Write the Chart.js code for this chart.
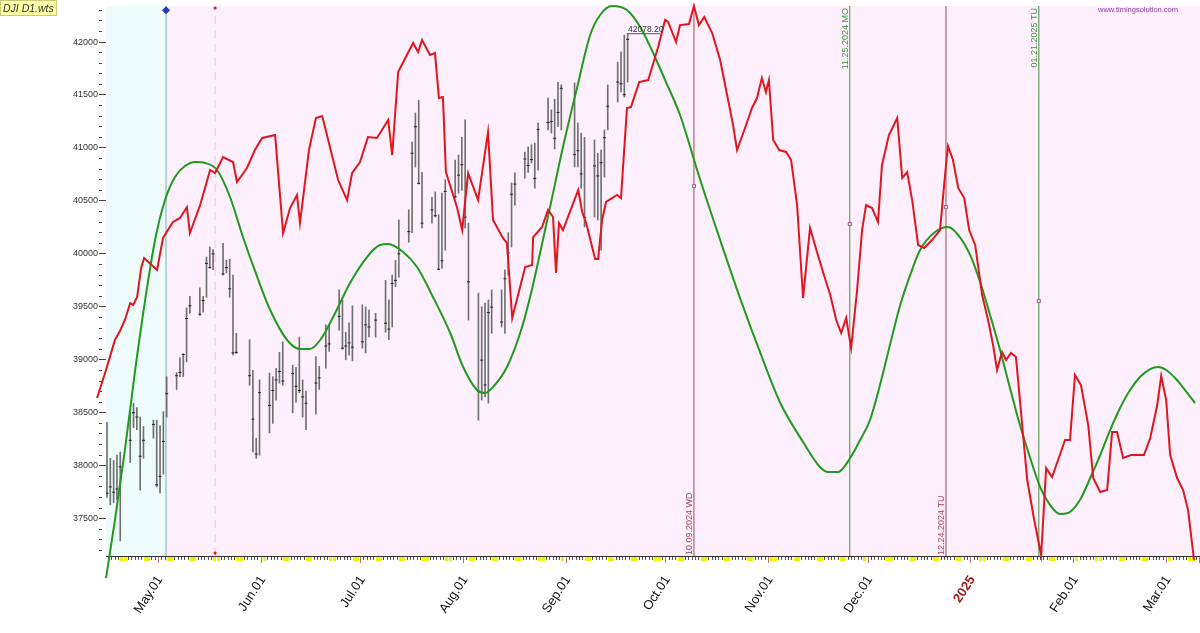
<!DOCTYPE html>
<html lang="en">
<head>
  <meta charset="UTF-8">
  <title>DJI D1.wts</title>
  <script src="https://cdn.jsdelivr.net/npm/chart.js"></script>
  <style>
    body { margin: 0; background: #fff; }
    canvas { display: block; }
  </style>
</head>
<body>
  <canvas id="myChart" width="1200" height="633"></canvas>

  <script>
    // day numbers count calendar days from May 1, 2024 (day 0)
    const monthStarts = [0, 31, 61, 92, 123, 153, 184, 214, 245, 276, 304];
    const monthLabels = ['May.01', 'Jun.01', 'Jul.01', 'Aug.01', 'Sep.01', 'Oct.01', 'Nov.01', 'Dec.01', '2025', 'Feb.01', 'Mar.01'];

    // daily price bars (trading days)
    const barDays = [-16, -15, -14, -13, -12, -9, -8, -7, -6, -5, -2, -1, 0, 1, 2,
      5, 6, 7, 8, 9, 12, 13, 14, 15, 16, 19, 20, 21, 22, 23, 27, 28, 29, 30,
      33, 34, 35, 36, 37, 40, 41, 42, 43, 44, 47, 48, 50, 51, 54, 55, 56, 57, 58,
      61, 62, 63, 65, 68, 69, 70, 71, 72, 75, 76, 77, 78, 79, 82, 83, 84, 85, 86, 89, 90, 91,
      92, 93, 96, 97, 98, 99, 100, 103, 104, 105, 106, 107, 110, 111, 112, 113, 114, 117, 118, 119, 120, 121,
      125, 126, 127, 128, 131, 132, 133, 134, 135, 138, 139, 140, 141];
    const barHigh = [38410, 38070, 38050, 38100, 38130, 38500, 38590, 38550, 38460, 38370, 38430, 38430, 38380, 38510, 38840,
      38880, 39020, 39060, 39490, 39600, 39680, 39600, 39970, 40065, 40040, 40100, 39940, 39950, 39800, 39250, 39190, 38900, 38260, 38810,
      38875, 38840, 38920, 39070, 39170, 38950, 38930, 39215, 38810, 38705, 39030, 38940, 39330, 39330, 39660, 39565, 39260, 39350, 39510,
      39520, 39500, 39470, 39440, 39750, 39565, 39800, 39940, 40320, 40415, 41055, 41330, 41450, 40770, 40535, 40585, 40370, 40575, 40700, 40885, 40933, 41100,
      41265, 40290, 39630, 39500, 39535, 39565, 39660, 39660, 39850, 40200, 40670, 40765, 40960, 41010, 41030, 41045, 41235, 41470, 41360, 41460, 41620, 41595,
      41613, 41235, 41140, 41100, 41075, 40950, 40980, 41170, 41595, 41810, 41905, 42066, 42078];
    const barLow = [37700, 37630, 37650, 37680, 37290, 38030, 38360, 38340, 37770, 38070, 38260, 37800, 37740, 37920, 38460,
      38720, 38840, 38840, 38980, 39440, 39420, 39450, 39590, 39866, 39850, 39800, 39820, 39590, 39045, 39060, 38760, 38130, 38070, 38100,
      38310, 38400, 38620, 38780, 38760, 38500, 38600, 38690, 38460, 38340, 38490, 38720, 38920, 39080, 39280, 39100, 39000, 39045, 38990,
      39110, 39065, 39215, 39215, 39260, 39190, 39310, 39690, 39780, 40110, 40200, 40820, 40660, 40245, 40290, 40348, 39850, 39865, 40035, 40527, 40574, 40600,
      40245, 39375, 38430, 38620, 38650, 38590, 39250, 39310, 39250, 39800, 40065, 40460, 40715, 40770, 40858, 40620, 40790, 41170, 41140, 40990, 41200, 41170,
      40820, 40820, 40620, 40255, 40348, 40320, 40036, 40725, 41170, 41434, 41528, 41480, 41622];
    const barClose = [37740, 37800, 37750, 37780, 37990, 38240, 38500, 38460, 38090, 38240, 38390, 37820, 37900, 38230, 38680,
      38850, 38880, 39050, 39390, 39510, 39430, 39560, 39910, 39870, 40000, 39810, 39870, 39670, 39065, 39070, 38850, 38440, 38110, 38690,
      38570, 38710, 38810, 38890, 38800, 38870, 38750, 38710, 38650, 38590, 38780, 38830, 39130, 39150, 39410, 39110, 39130, 39160, 39120,
      39170, 39330, 39310, 39375, 39345, 39290, 39720, 39750, 40000, 40210, 40950, 41200, 40665, 40290, 40415, 40360, 39855, 39935, 40590, 40540, 40743, 40842,
      40347, 39737, 38703, 38997, 38763, 39446, 39497, 39357, 39765, 40009, 40563, 40659, 40896, 40834, 40890, 40712, 41175, 41240, 41250, 41091, 41335, 41563,
      40937, 40974, 40755, 40345, 40830, 40736, 40861, 41097, 41394, 41622, 41606, 41503, 42025];

    // red projection line
    const redDays = [-19.0, -16.3, -13.6, -12.1, -10.6, -9.0, -8.1, -6.9, -5.7, -4.8, -0.9, 0.9, 3.9, 6.0, 8.1, 9.0, 12.1,
      15.1, 16.6, 19.0, 22.0, 23.2, 26.2, 28.6, 30.8, 34.7, 37.1, 39.2, 41.3, 42.2, 44.9, 47.0, 48.9, 50.7,
      53.7, 56.4, 57.9, 60.3, 62.7, 65.4, 68.8, 70.0, 71.8, 76.3, 77.8, 79.0, 81.4, 82.9, 84.1, 85.3, 86.2,
      89.6, 91.1, 92.9, 95.9, 98.9, 100.4, 103.4, 104.6, 106.2, 110.1, 112.2, 112.5, 115.2, 117.0, 118.5, 119.4,
      120.3, 121.5, 126.1, 127.3, 128.5, 131.2, 132.1, 133.3, 134.5, 137.8, 139.0, 140.8, 142.0, 144.5, 147.2,
      148.4, 150.2, 152.3, 153.2, 155.6, 156.8, 159.5, 161.0, 162.5, 164.1, 166.5, 168.9, 170.1,
      172.8, 174.0, 176.4, 178.5, 180.0, 181.5, 182.7, 183.6, 184.9, 186.7, 188.8, 190.3, 192.1, 193.9, 196.0,
      198.1, 200.2, 202.1, 203.9, 205.4, 206.9, 208.4, 210.2, 211.7, 212.9, 214.7, 216.5, 217.7, 219.8, 222.3,
      223.8, 225.3, 226.8, 228.6, 230.4, 232.8, 235.2, 237.0, 237.6, 239.1, 240.7, 242.5, 244.0, 245.8, 247.9,
      249.7, 251.2, 252.4, 253.9, 255.1, 256.6, 258.1, 259.7, 261.5, 263.6, 265.7, 267.2, 269.0, 270.8, 272.9,
      274.4, 275.9, 277.7, 279.9, 281.4, 283.5, 285.6, 287.1, 288.6, 290.4, 292.8, 294.9, 296.7, 298.6, 300.7,
      301.9, 303.4, 304.6, 306.7, 308.5, 310.0, 311.8];
    const redVals = [38639, 38904, 39187, 39272, 39376, 39536, 39517, 39593, 39867, 39961, 39848, 40150, 40301, 40339, 40442, 40197, 40461,
      40792, 40763, 40914, 40867, 40678, 40811, 40980, 41094, 41122, 40197, 40433, 40556, 40291, 40980, 41283, 41301, 41075,
      40697, 40508, 40763, 40867, 41103, 41094, 41264, 40933, 41717, 41991, 41906, 42019, 41877, 41896, 41471, 41481, 40773,
      40433, 40225, 40763, 40508, 41150, 40320, 40150, 40103, 39395, 39876, 39895, 40159, 40254, 40414, 40348, 39819,
      40291, 40225, 40603, 40395, 40291, 39952, 39952, 40320, 40490, 40556, 40527, 41377, 41386, 41622, 41641,
      41764, 41953, 42208, 42189, 42000, 42160, 42170, 42340, 42160, 42236, 42085, 41830, 41641,
      41216, 40980, 41188, 41377, 41471, 41660, 41528, 41641, 41075, 40980, 40962, 40886, 40461, 39583, 40244,
      40018, 39800, 39612, 39376, 39253, 39395, 39111, 39659, 40225, 40461, 40433, 40301, 40839, 41122, 41283,
      40716, 40773, 40508, 40084, 40055, 40131, 40225, 40839, 41018, 40886, 40622, 40527, 40225, 40084, 39612,
      39376, 39140, 38904, 39074, 38998, 39064, 39026, 38479, 37865, 37488, 37157, 37978, 37894, 38054, 38243,
      38243, 38857, 38762, 38384, 37884, 37752, 37771, 38318, 38318, 38073, 38101, 38101, 38101, 38262, 38573,
      38847, 38620, 38101, 37884, 37771, 37582, 37110];

    // green cycle curve
    const greenDays = [-16.3, -13.6, -10.6, -7.5, -4.5, -1.5, 1.5, 4.5, 7.5, 10.6, 13.6, 17.2, 21.1, 25.0, 29.3, 33.2,
      38.3, 42.2, 45.2, 48.3, 52.2, 57.3, 62.4, 66.3, 68.8, 73.3, 77.5, 82.3, 87.5, 91.4, 95.6, 98.0, 100.4,
      104.6, 108.6, 111.6, 114.6, 117.6, 121.5, 125.8, 129.7, 132.7, 136.3, 140.8, 144.8, 148.7, 152.3, 156.8,
      162.9, 168.9, 174.9, 180.9, 186.9, 193.9, 199.0, 201.4, 204.5, 208.1, 211.1, 214.1, 217.1, 220.1, 223.2,
      226.2, 229.2, 233.7, 237.6, 240.7, 244.3, 247.3, 250.3, 253.3, 256.3, 259.3, 262.4, 265.4, 268.4, 271.4,
      273.8, 277.4, 280.5, 283.5, 286.5, 289.5, 292.5, 295.5, 298.6, 301.0, 303.4, 306.1, 309.1, 312.1];
    const greenVals = [36940, 37488, 38149, 38904, 39564, 40131, 40508, 40726, 40829, 40867, 40858, 40792, 40537, 40159, 39782, 39470,
      39187, 39102, 39102, 39187, 39404, 39725, 39970, 40084, 40093, 40018, 39876, 39593, 39253, 38932, 38715, 38687, 38743,
      38932, 39253, 39593, 40008, 40442, 41009, 41575, 42066, 42255, 42340, 42302, 42142, 41896, 41641, 41311,
      40697, 40131, 39583, 39074, 38602, 38224, 37988, 37941, 37941, 38073, 38243, 38432, 38762, 39140, 39517,
      39800, 40036, 40206, 40254, 40178, 39989, 39734, 39423, 39093, 38734, 38384, 38073, 37799, 37629, 37544,
      37554, 37677, 37884, 38101, 38337, 38545, 38715, 38838, 38913, 38932, 38904, 38828, 38715, 38592];

    // event lines and their markers
    const startDay = 1.8;
    const dashDay = 16.6;
    const eventDays = [161, 208, 237, 265];
    const eventLabels = ['10.09.2024 WD', '11.25.2024 MO', '12.24.2024 TU', '01.21.2025 TU'];
    const eventVals = [40641, 40282, 40442, 39555];
    const peakDay = 140.8, peakEnd = 150.8, peakVal = 42078.20;

    const xMin = -16.3, xMax = 313.6;
    const yMin = 37148, yMax = 42340;

    const isWeekend = d => { const w = ((d + 3) % 7 + 7) % 7; return w === 0 || w === 6; };
    const isMonth = d => monthStarts.includes(d);

    const vline = (d, color, dash) => ({
      type: 'line', data: [{ x: d, y: yMin }, { x: d, y: yMax }],
      borderColor: color, borderWidth: 1, borderDash: dash || [], pointRadius: 0, order: 5
    });

    const eventColors = ['#a04858', '#3f8f3f', '#a04858', '#3f8f3f'];

    const datasets = [
      vline(startDay, '#6fb3b3'),
      vline(dashDay, '#e2c8d8', [8, 6]),
      ...eventDays.map((d, i) => vline(d, eventColors[i])),
      {
        type: 'bar', data: barDays.map((d, i) => ({ x: d, y: [barLow[i], barHigh[i]] })),
        backgroundColor: '#707070', barThickness: 1, order: 4
      },
      {
        type: 'scatter', data: barDays.map((d, i) => ({ x: d, y: barClose[i] })),
        pointStyle: 'line', pointRadius: 1.5, borderColor: '#222', borderWidth: 1, order: 3
      },
      {
        type: 'line', data: greenDays.map((d, i) => ({ x: d, y: greenVals[i] })),
        borderColor: '#1f9a1f', borderWidth: 2, pointRadius: 0, tension: 0.4,
        cubicInterpolationMode: 'monotone', clip: false, order: 2
      },
      {
        type: 'line', data: redDays.map((d, i) => ({ x: d, y: redVals[i] })),
        borderColor: '#e0161e', borderWidth: 2, pointRadius: 0, tension: 0, clip: false, order: 1
      },
      {
        type: 'line', data: [{ x: peakDay, y: peakVal }, { x: peakEnd, y: peakVal }],
        borderColor: '#555', borderWidth: 1, pointRadius: 0, order: 0
      },
      {
        type: 'scatter', data: eventDays.map((d, i) => ({ x: d, y: eventVals[i] })),
        pointStyle: 'rect', pointRadius: 2.2, backgroundColor: '#f0d8e8', borderColor: '#a06080', borderWidth: 1, order: 0
      },
      {
        type: 'scatter', data: [{ x: dashDay, y: 42321 }, { x: dashDay, y: 37176 }],
        pointStyle: 'circle', pointRadius: 1.6, backgroundColor: '#e02020', borderWidth: 0, clip: false, order: 0
      },
      {
        type: 'scatter', data: [{ x: startDay, y: 42300 }],
        pointStyle: 'rectRot', pointRadius: 3.5, backgroundColor: '#2838b8', borderColor: '#2838b8', borderWidth: 1, clip: false, order: 0
      }
    ];

    const decor = {
      id: 'decor',
      beforeDatasetsDraw(chart) {
        const { ctx, chartArea: a, scales: { x } } = chart;
        const xs = x.getPixelForValue(startDay);
        ctx.save();
        ctx.fillStyle = '#effcfc';
        ctx.fillRect(a.left, a.top, xs - a.left, a.bottom - a.top);
        ctx.fillStyle = '#fdf0fc';
        ctx.fillRect(xs, a.top, a.right - xs, a.bottom - a.top);
        ctx.restore();
      },
      afterDraw(chart) {
        const { ctx, chartArea: a, scales: { x, y } } = chart;
        ctx.save();
        // file label
        ctx.fillStyle = '#ffffa6';
        ctx.fillRect(0, 0, 57, 16);
        ctx.strokeStyle = '#c8c878';
        ctx.strokeRect(0.5, 0.5, 56, 15);
        ctx.fillStyle = '#333';
        ctx.font = 'italic 10.5px Arial';
        ctx.textBaseline = 'alphabetic';
        ctx.fillText('DJI D1.wts', 3, 12);
        // site
        ctx.fillStyle = '#8a3aa8';
        ctx.font = '7.5px Arial';
        ctx.fillText('www.timingsolution.com', 1098, 12);
        // peak value
        ctx.fillStyle = '#333';
        ctx.font = '8.5px Arial';
        ctx.fillText('42078.20', x.getPixelForValue(peakDay) + 1, y.getPixelForValue(peakVal) - 2);
        // event labels
        ctx.font = '9px Arial';
        eventDays.forEach((d, i) => {
          const px = x.getPixelForValue(d) - 2;
          ctx.fillStyle = eventColors[i];
          ctx.save();
          if (i % 2 === 0) {
            ctx.translate(px, a.bottom - 1);
            ctx.rotate(-Math.PI / 2);
            ctx.textAlign = 'left';
          } else {
            ctx.translate(px, a.top + 2);
            ctx.rotate(-Math.PI / 2);
            ctx.textAlign = 'right';
          }
          ctx.fillText(eventLabels[i], 0, 0);
          ctx.restore();
        });
        ctx.restore();
      }
    };

    Chart.defaults.font.family = 'Arial';

    const ctx = document.getElementById('myChart').getContext('2d');
    const myChart = new Chart(ctx, {
      type: 'line',
      data: { datasets },
      options: {
        responsive: false,
        animation: false,
        events: [],
        layout: { autoPadding: false, padding: { top: 6, right: 0, left: 0, bottom: 0 } },
        plugins: { legend: { display: false }, tooltip: { enabled: false } },
        scales: {
          x: {
            type: 'linear', min: xMin, max: xMax, offset: false,
            afterBuildTicks: s => {
              const t = [];
              for (let d = Math.ceil(xMin); d <= xMax; d++) t.push({ value: d });
              s.ticks = t;
            },
            afterFit: s => { s.height = 77; s.paddingLeft = 0; s.paddingRight = 0; },
            ticks: {
              autoSkip: false, minRotation: 57, maxRotation: 57, padding: 10,
              callback: v => { const i = monthStarts.indexOf(v); return i >= 0 ? monthLabels[i] : ''; },
              color: c => (c.tick && c.tick.value === 245) ? '#a01818' : '#111',
              font: c => (c.tick && c.tick.value === 245) ? { size: 13, weight: 'bold' } : { size: 13 }
            },
            grid: {
              drawOnChartArea: false, tickLength: 7,
              tickColor: c => {
                const d = c.tick ? c.tick.value : 0;
                if (isMonth(d)) return '#c07070';
                if (isWeekend(d)) return '#f2ee00';
                return '#555';
              },
              tickWidth: c => {
                const d = c.tick ? c.tick.value : 0;
                return (!isMonth(d) && isWeekend(d)) ? 3 : 1;
              },
              tickBorderDash: c => {
                const d = c.tick ? c.tick.value : 0;
                if (isMonth(d)) return [];
                return isWeekend(d) ? [4, 20] : [3, 20];
              }
            },
            border: { color: '#333' }
          },
          y: {
            type: 'linear', min: yMin, max: yMax,
            afterBuildTicks: s => {
              const t = [];
              for (let v = Math.ceil(yMin / 100) * 100; v <= yMax; v += 100) t.push({ value: v });
              s.ticks = t;
            },
            afterFit: s => { s.width = 106; s.paddingTop = 0; s.paddingBottom = 0; },
            ticks: {
              autoSkip: false, padding: 1, color: '#333', font: { size: 9 },
              callback: v => v % 500 === 0 ? String(v) : ''
            },
            grid: {
              drawOnChartArea: false, tickLength: 7, tickColor: '#444',
              tickBorderDash: c => (c.tick && c.tick.value % 500 === 0) ? [] : [3, 20]
            },
            border: { color: '#333' }
          }
        }
      },
      plugins: [decor]
    });
  </script>
</body>
</html>
